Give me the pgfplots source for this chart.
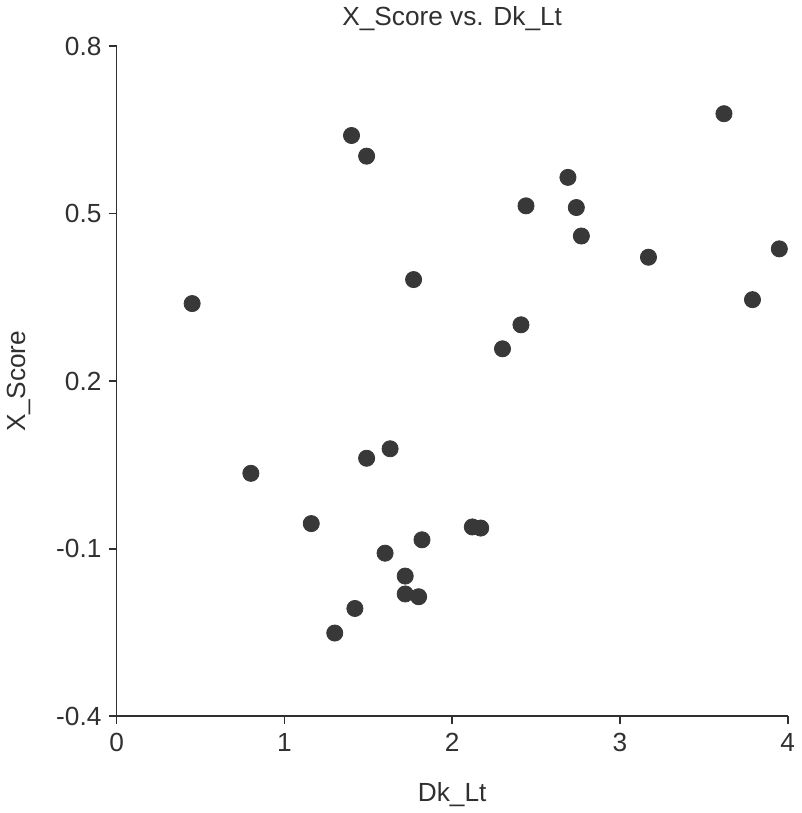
\documentclass[border=0pt]{standalone}
\usepackage{fontspec}
\setmainfont{Liberation Sans}
\usepackage{pgfplots}
\pgfplotsset{compat=1.18}
\definecolor{ptCol}{HTML}{383838}
\definecolor{axCol}{HTML}{303030}

\begin{document}
\begin{tikzpicture}
\begin{axis}[
  scale only axis,
  width=332.5pt, height=332pt,
  xmin=0, xmax=4,
  ymin=-0.4, ymax=0.8,
  xtick={0,1,2,3,4},
  ytick={-0.4,-0.1,0.2,0.5,0.8},
  yticklabels={-0.4,-0.1,0.2,0.5,0.8},
  axis lines*=left,
  axis line style={axCol, line width=0.8pt, -},
  tick style={axCol, line width=0.8pt},
  tick align=outside,
  major tick length=4pt,
  every tick label/.append style={font=\fontsize{13}{15}\selectfont, text=axCol},
  /pgf/number format/assume math mode=true,
  xticklabel style={yshift=-1pt},
  title={X\_Score vs. Dk\_Lt},
  title style={font=\fontsize{13}{15}\selectfont, text=axCol, yshift=-2pt},
  xlabel={Dk\_Lt},
  ylabel={X\_Score},
  label style={font=\fontsize{13}{15}\selectfont, text=axCol},
  xlabel style={yshift=-8pt},
  ylabel style={yshift=6pt},
  clip=false,
]
  \addplot[only marks, mark=*, mark size=4pt, mark options={fill=ptCol, draw=ptCol}]
  coordinates {
    (0.45,0.339) (0.80,0.035) (1.16,-0.055) (1.30,-0.251)
    (1.40,0.640) (1.42,-0.207) (1.49,0.603) (1.49,0.062)
    (1.60,-0.108) (1.63,0.079) (1.72,-0.149) (1.72,-0.181)
    (1.80,-0.186) (1.82,-0.084) (1.77,0.382) (2.12,-0.061)
    (2.17,-0.063) (2.30,0.258) (2.41,0.301) (2.44,0.514)
    (2.69,0.565) (2.74,0.511) (2.77,0.460) (3.17,0.422)
    (3.62,0.679) (3.79,0.346) (3.95,0.437)
  };
\end{axis}
\end{tikzpicture}
\end{document}
